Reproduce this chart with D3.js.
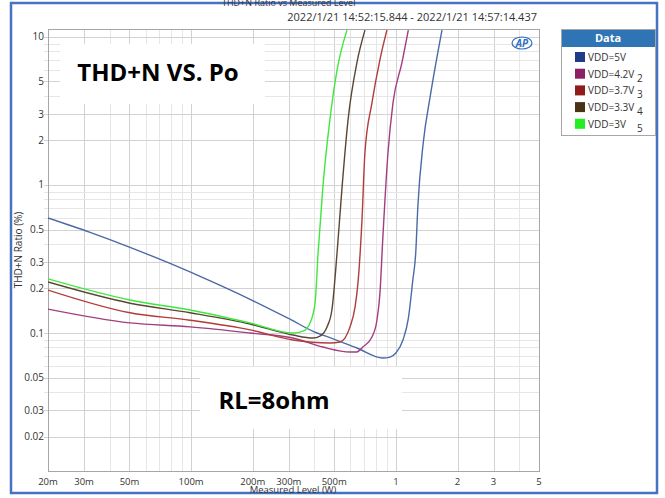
<!DOCTYPE html>
<html>
<head>
<meta charset="utf-8">
<script src="https://cdn.jsdelivr.net/npm/d3@7"></script>
<style>
  body { margin: 0; background: #fff; }
  text { font-family: "Open Sans", "DejaVu Sans", sans-serif; }
</style>
</head>
<body>
<div id="chart"></div>
<script>
// Series: [power W, THD+N %]
var vdd5 = [[0.02,0.598],[0.0321,0.478],[0.0503,0.379],[0.0789,0.295],[0.124,0.225],[0.194,0.169],[0.304,0.124],[0.412,0.100],[0.44,0.0969],[0.645,0.0792],[0.864,0.0678],[0.936,0.0688],[1.0,0.0733],[1.083,0.0897],[1.15,0.125],[1.21,0.228],[1.25,0.347],[1.28,0.71],[1.36,1.92],[1.47,3.93],[1.68,11.1]];
var vdd42 = [[0.02,0.145],[0.0503,0.117],[0.0988,0.110],[0.194,0.100],[0.314,0.0925],[0.44,0.0804],[0.597,0.0744],[0.645,0.0744],[0.69,0.0804],[0.764,0.094],[0.808,0.122],[0.836,0.186],[0.864,0.446],[0.915,1.65],[0.968,3.58],[1.07,6.67],[1.15,11.1]];
var vdd37 = [[0.02,0.195],[0.0503,0.137],[0.0988,0.122],[0.194,0.105],[0.314,0.0897],[0.476,0.0856],[0.533,0.0869],[0.564,0.0925],[0.597,0.110],[0.632,0.150],[0.653,0.218],[0.683,0.58],[0.706,1.65],[0.764,3.58],[0.836,7.03],[0.904,11.1]];
var vdd33 = [[0.02,0.221],[0.0503,0.159],[0.0988,0.137],[0.194,0.115],[0.314,0.0969],[0.394,0.0925],[0.426,0.0954],[0.461,0.110],[0.487,0.143],[0.516,0.347],[0.546,0.967],[0.584,2.75],[0.645,6.67],[0.706,11.1]];
var vdd3 = [[0.02,0.232],[0.0503,0.167],[0.0988,0.143],[0.194,0.117],[0.314,0.100],[0.352,0.103],[0.381,0.117],[0.403,0.159],[0.417,0.347],[0.44,0.967],[0.476,2.75],[0.516,5.96],[0.577,11.1]];

var seriesNames = ["VDD=5V", "VDD=4.2V", "VDD=3.7V", "VDD=3.3V", "VDD=3V"];
var seriesNums = ["", "2", "3", "4", "5"];
var lineColors = ["#4a6aa6", "#a23d7f", "#b03c3c", "#5a4632", "#3ee83e"];
var swatchColors = ["#1f3c88", "#8c1f66", "#921c1c", "#4a3315", "#22ee22"];

var xTicks = [0.02, 0.03, 0.05, 0.1, 0.2, 0.3, 0.5, 1, 2, 3, 5];
var xTickLabels = ["20m", "30m", "50m", "100m", "200m", "300m", "500m", "1", "2", "3", "5"];
var yTicks = [10, 5, 3, 2, 1, 0.5, 0.3, 0.2, 0.1, 0.05, 0.03, 0.02];

var W = 665, H = 498;
var pLeft = 48, pRight = 539, pTop = 29, pBottom = 471;

var svg = d3.select("#chart").append("svg")
    .attr("width", W)
    .attr("height", H);

// outer blue frame
svg.append("rect")
    .attr("x", 11).attr("y", 3)
    .attr("width", 646).attr("height", 490)
    .attr("fill", "#fff")
    .attr("stroke", "#4472c4")
    .attr("stroke-width", 2.5);

var x = d3.scaleLog().domain([0.02, 5]).range([pLeft, pRight]);
var y = d3.scaleLog().domain([0.0117, 11.3]).range([pBottom, pTop]);

// grid lines
var xGrid = [];
[0.01, 0.1, 1].forEach(function(d) {
    for (var k = 1; k <= 9; k++) {
        var v = +(d * k).toPrecision(3);
        if (v >= 0.02 && v <= 5) xGrid.push(v);
    }
});
var yGrid = [];
[0.01, 0.1, 1, 10].forEach(function(d) {
    for (var k = 1; k <= 9; k++) {
        var v = +(d * k).toPrecision(3);
        if (v >= 0.012 && v <= 11) yGrid.push(v);
    }
});

var grid = svg.append("g");
grid.selectAll(".xg").data(xGrid).enter().append("line")
    .attr("x1", function(d) { return Math.round(x(d)) + 0.5; })
    .attr("x2", function(d) { return Math.round(x(d)) + 0.5; })
    .attr("y1", pTop).attr("y2", pBottom)
    .attr("stroke", function(d) { return xTicks.indexOf(d) >= 0 ? "#d2d2d2" : "#e6e6e6"; });
grid.selectAll(".yg").data(yGrid).enter().append("line")
    .attr("y1", function(d) { return Math.round(y(d)) + 0.5; })
    .attr("y2", function(d) { return Math.round(y(d)) + 0.5; })
    .attr("x1", pLeft - 4).attr("x2", pRight)
    .attr("stroke", function(d) { return yTicks.indexOf(d) >= 0 ? "#d2d2d2" : "#e6e6e6"; });

// plot frame
svg.append("rect")
    .attr("x", pLeft + 0.5).attr("y", pTop + 0.5)
    .attr("width", pRight - pLeft).attr("height", pBottom - pTop)
    .attr("fill", "none")
    .attr("stroke", "#a6a6a6");

// axes labels
svg.append("g").selectAll("text").data(yTicks).enter().append("text")
    .attr("x", pLeft - 4)
    .attr("y", function(d) { return y(d) + 3.5; })
    .attr("text-anchor", "end")
    .attr("font-size", 10)
    .attr("fill", "#333")
    .text(function(d) { return d; });

svg.append("g").selectAll("text").data(xTicks).enter().append("text")
    .attr("x", function(d) { return x(d); })
    .attr("y", pBottom + 14)
    .attr("text-anchor", "middle")
    .attr("font-size", 9.5)
    .attr("fill", "#333")
    .text(function(d, i) { return xTickLabels[i]; });

svg.append("text")
    .attr("x", 293).attr("y", pBottom + 22)
    .attr("text-anchor", "middle")
    .attr("font-size", 9.5)
    .attr("fill", "#333")
    .text("Measured Level (W)");

svg.append("text")
    .attr("transform", "translate(22," + ((pTop + pBottom) / 2) + ") rotate(-90)")
    .attr("text-anchor", "middle")
    .attr("font-size", 10)
    .attr("fill", "#333")
    .text("THD+N Ratio (%)");

// titles
svg.append("text")
    .attr("x", 222).attr("y", 6)
    .attr("font-family", "DejaVu Sans Mono, monospace")
    .attr("font-size", 9)
    .attr("fill", "#333")
    .text("THD+N Ratio vs Measured Level");

svg.append("text")
    .attr("x", pRight - 2).attr("y", 21)
    .attr("text-anchor", "end")
    .attr("font-size", 11)
    .attr("fill", "#333")
    .text("2022/1/21 14:52:15.844 - 2022/1/21 14:57:14.437");

// clip for curves
svg.append("clipPath").attr("id", "clip")
    .append("rect")
    .attr("x", pLeft).attr("y", pTop)
    .attr("width", pRight - pLeft).attr("height", pBottom - pTop);

var line = d3.line()
    .curve(d3.curveMonotoneX)
    .x(function(d) { return x(d[0]); })
    .y(function(d) { return y(d[1]); });

var allSeries = [vdd5, vdd42, vdd37, vdd33, vdd3];
svg.append("g").attr("clip-path", "url(#clip)")
    .selectAll("path").data(allSeries).enter().append("path")
    .attr("d", line)
    .attr("fill", "none")
    .attr("stroke", function(d, i) { return lineColors[i]; })
    .attr("stroke-width", 1.4);

// AP logo
var logo = svg.append("g").attr("transform", "translate(522,43)");
logo.append("ellipse").attr("rx", 10).attr("ry", 6)
    .attr("fill", "none").attr("stroke", "#2e6fc0").attr("stroke-width", 1.2);
logo.append("text").attr("y", 3.5).attr("text-anchor", "middle")
    .attr("font-size", 10).attr("font-style", "italic").attr("font-weight", "bold")
    .attr("fill", "#2e6fc0").text("AP");

// annotation boxes
svg.append("rect").attr("x", 60).attr("y", 44).attr("width", 205).attr("height", 60).attr("fill", "#fff");
svg.append("text").attr("x", 158).attr("y", 81)
    .attr("text-anchor", "middle")
    .attr("font-family", "Liberation Sans, Arial, sans-serif")
    .attr("font-size", 24).attr("font-weight", "bold")
    .attr("fill", "#000")
    .text("THD+N VS. Po");

svg.append("rect").attr("x", 200).attr("y", 367).attr("width", 202).attr("height", 62).attr("fill", "#fff");
svg.append("text").attr("x", 274).attr("y", 409)
    .attr("text-anchor", "middle")
    .attr("font-family", "Liberation Sans, Arial, sans-serif")
    .attr("font-size", 24).attr("font-weight", "bold")
    .attr("fill", "#000")
    .text("RL=8ohm");

// legend
var lg = svg.append("g").attr("transform", "translate(561,29)");
lg.append("rect").attr("x", 0.5).attr("y", 0.5).attr("width", 94).attr("height", 106)
    .attr("fill", "#fff").attr("stroke", "#a6a6a6");
lg.append("rect").attr("x", 1).attr("y", 1).attr("width", 93).attr("height", 17)
    .attr("fill", "#2f75b5");
lg.append("text").attr("x", 47).attr("y", 13).attr("text-anchor", "middle")
    .attr("font-size", 11).attr("font-weight", "bold").attr("fill", "#fff")
    .text("Data");

var item = lg.selectAll(".item").data(seriesNames).enter().append("g")
    .attr("transform", function(d, i) { return "translate(0," + (28 + i * 16.7) + ")"; });
item.append("rect").attr("x", 14).attr("y", -5).attr("width", 10).attr("height", 10)
    .attr("fill", function(d, i) { return swatchColors[i]; });
item.append("text").attr("x", 27).attr("y", 4)
    .attr("font-size", 10).attr("fill", "#333")
    .text(function(d) { return d; });
item.append("text").attr("x", 76).attr("y", 8)
    .attr("font-size", 10).attr("fill", "#333")
    .text(function(d, i) { return seriesNums[i]; });
</script>
</body>
</html>
